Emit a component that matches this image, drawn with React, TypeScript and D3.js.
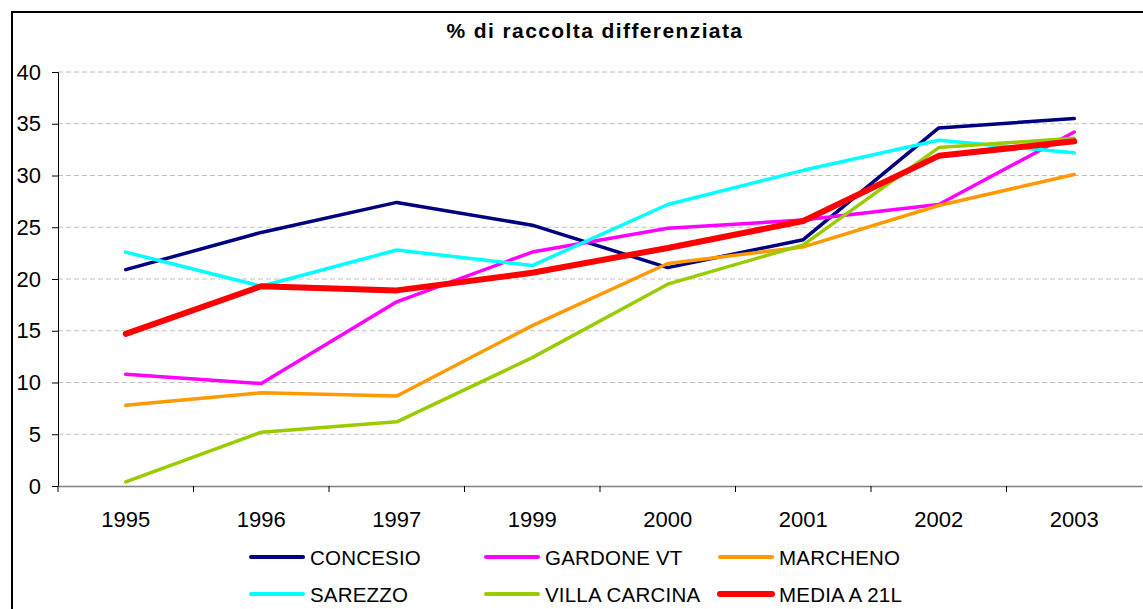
import { useEffect, useRef } from 'react';
import * as d3 from 'd3';

const years = ['1995', '1996', '1997', '1999', '2000', '2001', '2002', '2003'];
const yTicks = [0, 5, 10, 15, 20, 25, 30, 35, 40];

const concesio = [20.9, 24.5, 27.4, 25.2, 21.1, 23.8, 34.6, 35.5];
const gardone = [10.8, 9.9, 17.8, 22.6, 24.9, 25.7, 27.2, 34.2];
const marcheno = [7.8, 9.0, 8.7, 15.5, 21.5, 23.1, 27.1, 30.1];
const sarezzo = [22.6, 19.3, 22.8, 21.3, 27.2, 30.5, 33.4, 32.2];
const villaCarcina = [0.4, 5.2, 6.2, 12.4, 19.5, 23.3, 32.7, 33.6];
const media = [14.7, 19.3, 18.9, 20.6, 23.0, 25.6, 31.9, 33.3];

const seriesNames = ['CONCESIO', 'GARDONE VT', 'MARCHENO', 'SAREZZO', 'VILLA CARCINA', 'MEDIA A 21L'];
const seriesColors = ['#000080', '#ff00ff', '#ff9900', '#00ffff', '#99cc00', '#ff0000'];

const App = () => {
  const svgRef = useRef<SVGSVGElement>(null);

  useEffect(() => {
    const width = 1143;
    const height = 609;
    const margin = { top: 72, right: 1, bottom: 123, left: 58 };
    const font = 'Liberation Sans, Arial, sans-serif';

    const svg = d3.select(svgRef.current)
      .attr('width', width)
      .attr('height', height)
      .style('position', 'absolute')
      .style('left', '0px')
      .style('top', '0px')
      .style('background-color', '#ffffff');

    svg.selectAll('*').remove();

    const allSeries = [concesio, gardone, marcheno, sarezzo, villaCarcina, media];

    const xScale = d3.scaleBand()
      .domain(years)
      .range([margin.left, width - margin.right]);

    const yScale = d3.scaleLinear()
      .domain([0, 40])
      .range([height - margin.bottom, margin.top]);

    // outer frame (cut off on the right and bottom)
    svg.append('rect')
      .attr('x', 12)
      .attr('y', 12)
      .attr('width', width + 20)
      .attr('height', height + 20)
      .attr('fill', 'none')
      .attr('stroke', '#000')
      .attr('stroke-width', 2);

    // title
    svg.append('text')
      .attr('x', 595)
      .attr('y', 38)
      .attr('text-anchor', 'middle')
      .style('font-family', font)
      .style('font-size', '21px')
      .style('font-weight', 'bold')
      .style('letter-spacing', '1.4px')
      .text('% di raccolta differenziata');

    // gridlines
    svg.append('g')
      .selectAll('line')
      .data(yTicks.filter(d => d > 0))
      .enter()
      .append('line')
      .attr('x1', margin.left)
      .attr('x2', width)
      .attr('y1', d => yScale(d))
      .attr('y2', d => yScale(d))
      .attr('stroke', '#c0c0c0')
      .attr('stroke-width', 1)
      .attr('stroke-dasharray', '5,3');

    // y axis
    const yAxis = svg.append('g')
      .attr('transform', `translate(${margin.left}, 0)`)
      .call(d3.axisLeft(yScale).tickValues(yTicks).tickSize(6).tickPadding(11));
    yAxis.select('.domain').attr('stroke', '#000');
    yAxis.selectAll('.tick line').attr('stroke', '#000');
    yAxis.selectAll('text')
      .style('font-family', font)
      .style('font-size', '22px')
      .attr('fill', '#000');

    // x axis
    const xAxis = svg.append('g')
      .attr('transform', `translate(0, ${yScale(0)})`)
      .call(d3.axisBottom(xScale).tickSize(0).tickPadding(25));
    xAxis.select('.domain').attr('stroke', '#808080').attr('stroke-width', 1.5);
    xAxis.selectAll('text')
      .style('font-family', font)
      .style('font-size', '22px')
      .attr('fill', '#000');

    // x tick marks between categories
    svg.append('g')
      .selectAll('line')
      .data(years)
      .enter()
      .append('line')
      .attr('x1', d => xScale(d)!)
      .attr('x2', d => xScale(d)!)
      .attr('y1', yScale(0))
      .attr('y2', yScale(0) + 6)
      .attr('stroke', '#000');

    // lines
    const line = d3.line<number>()
      .x((d, i) => xScale(years[i])! + xScale.bandwidth() / 2)
      .y(d => yScale(d));

    svg.append('g')
      .selectAll('path')
      .data(allSeries)
      .enter()
      .append('path')
      .attr('d', d => line(d))
      .attr('fill', 'none')
      .attr('stroke', (d, i) => seriesColors[i])
      .attr('stroke-width', (d, i) => (i === 5 ? 6 : 3.5))
      .attr('stroke-linejoin', 'round')
      .attr('stroke-linecap', 'round');

    // legend
    const legendCols = [250, 485, 719];
    const legendRows = [557, 594];
    const legend = svg.append('g')
      .selectAll('g')
      .data(seriesNames)
      .enter()
      .append('g')
      .attr('transform', (d, i) => `translate(${legendCols[i % 3]}, ${legendRows[Math.floor(i / 3)]})`);

    legend.append('line')
      .attr('x1', 1)
      .attr('x2', 53)
      .attr('stroke', (d, i) => seriesColors[i])
      .attr('stroke-width', (d, i) => (i === 5 ? 6 : 4))
      .attr('stroke-linecap', 'round');

    legend.append('text')
      .attr('x', 60)
      .attr('y', 8)
      .style('font-family', font)
      .style('font-size', '20.5px')
      .style('letter-spacing', '0.2px')
      .text(d => d);
  }, []);

  return <svg ref={svgRef}></svg>;
};

export default App;
